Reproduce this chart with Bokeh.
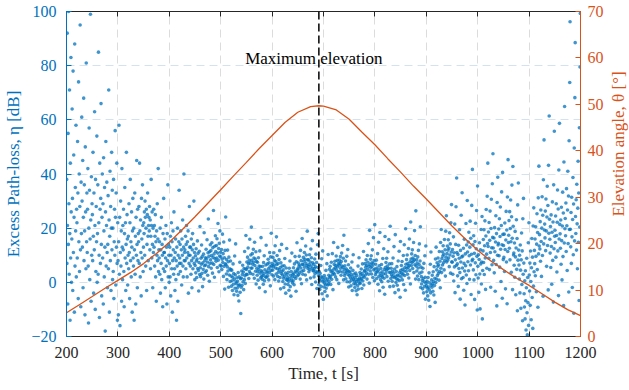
import math
import numpy as np
from bokeh.plotting import figure
from bokeh.layouts import row
from bokeh.core.properties import value
from bokeh.models import LinearAxis, Range1d, Span, Label, SingleIntervalTicker, ColumnDataSource
from bokeh.embed import file_html
from bokeh.resources import INLINE

# Satellite pass: elevation angle (deg) against time (s)
ELEV_T = [200, 225, 250, 275, 300, 325, 350, 375, 400, 425, 450, 475, 500, 525, 550,
          575, 600, 625, 650, 675, 691, 700, 725, 750, 775, 800, 825, 850, 875, 900,
          925, 950, 975, 1000, 1025, 1050, 1075, 1100, 1125, 1150, 1175, 1200]
ELEV_DEG = [5.1, 6.85, 8.6, 10.4, 12.1, 13.8, 15.7, 17.9, 20.3, 23.0, 25.8, 28.7, 31.6, 34.6, 37.5,
            40.5, 43.3, 46.1, 48.3, 49.5, 49.7, 49.6, 48.8, 46.8, 44.0, 41.3, 38.3, 35.4, 32.4, 29.6,
            26.7, 23.8, 21.1, 18.6, 16.3, 14.4, 12.6, 11.0, 9.2, 7.4, 5.8, 4.5]

# Excess path-loss samples (dB), one row per 10 s window, in time order
ETA_200_300 = [
    [38, 7, 92, 21, -8, 55, 14, 100, 29, 3, 71, 18, -14, 44, 9, 83, 26, 0],
    [16, 64, 31, -3, 78, 11, 47, 24, -11, 88, 6, 35, 19, 58, 2, 27],
    [22, 9, 52, 33, -6, 74, 15, 40, 4, 28, 95, 12, -9, 37, 18, 61],
    [30, 13, 45, -2, 24, 68, 8, 36, 19, -12, 50, 26, 5, 81, 15, 33],
    [11, 27, 42, 6, -15, 20, 57, 34, 1, 16, 99, 23, -7, 39, 10, 29],
    [25, 8, 48, 17, -4, 33, 12, 63, 21, -10, 38, 4, 28, 15, 54, 0],
    [18, 36, 3, 85, 22, 10, -13, 44, 27, 7, 31, 66, 14, -5, 24, 40],
    [9, 29, -8, 46, 19, 2, 35, 13, -18, 26, 52, 6, 21, 37, 11, -2],
    [14, 32, 5, 71, 23, -11, 17, 41, 8, 28, -3, 20, 48, 12, 34, 1],
    [20, 4, 38, -6, 15, 27, 10, 56, 24, -1, 33, 13, 44, 7, -14, 22],
]
ETA_300_450 = [
    [8, -12, 15, 58, 3, 24, -16, 11, 30, 6, 19, -7, 42, 13, 1, 21],
    [12, 27, 4, -9, 18, 35, 9, 22, -3, 14, 48, 7, 25, 16, -1, 10],
    [17, 5, 29, 11, -6, 22, 38, 8, 15, 2, 26, 13, -11, 19, 31, 9],
    [6, 20, -14, 12, 33, 3, 17, -8, 24, 10, 45, 14, -2, 27, 8, 18],
    [15, 28, 7, 44, 19, 2, 23, 11, -5, 31, 16, 9, 36, 21, 4, 13],
    [22, 18, 26, 10, 30, 24, 6, 20, 27, -3, 14, 25, 33, 17, 8, 21],
    [24, 19, 28, 12, 23, 5, 17, 38, 21, 9, 26, 14, -2, 20, 11, 27],
    [13, 21, 6, 17, 25, 2, 15, -7, 19, 10, 29, 8, 16, 42, 4, 12],
    [9, 15, 3, 20, -4, 12, 7, 24, 1, 14, 10, -9, 18, 5, 31, 11],
    [11, 4, 16, -2, 9, 21, 6, 13, -8, 18, 8, 36, 2, 14, 10, 0],
    [7, 13, 2, 17, -5, 10, 22, 5, 15, -11, 8, 19, 12, 3, 26, 9],
    [5, -3, 11, 16, 1, 8, -14, 13, 6, 20, -7, 10, 3, 15, 34, 7],
    [9, 14, 4, 19, 7, 12, -1, 16, 10, 23, 6, 2, 13, 40, 8, 11],
    [12, 8, 17, 5, 14, 21, 9, 2, 15, 11, 19, -4, 10, 7, 28, 13],
    [10, 6, 13, 3, 16, 8, -2, 12, 18, 5, 9, 14, 30, 7, 11, 1],
]
ETA_450_950 = [
    [6.2, 9.8, 3.5, 12.4, 7.9, 1.8, 8.6, 15.3, 5.1, 10.7, 4.4, -3.2, 7.3, 11.5, 2.9, 20.6],
    [5.4, 2.1, 8.9, 6.7, 13.8, 3.3, 9.5, -1.6, 7.2, 4.8, 10.4, 1.2, 18.3, 6.1, 8.0, 3.7],
    [9.1, 6.4, 12.2, 4.3, 8.8, 15.7, 7.5, 2.6, 10.9, 23.4, 5.8, 9.6, 0.4, 11.3, 7.0, 13.9],
    [8.3, 11.7, 5.2, 9.9, 14.6, 7.1, 3.4, 12.8, 9.2, 26.5, 6.6, 10.5, 1.9, 13.3, 8.7, 17.2],
    [11.4, 7.8, 13.6, 9.0, 16.1, 5.5, 10.8, 21.7, 8.2, 12.5, 3.9, 14.4, 9.7, 19.0, 6.3, 11.1],
    [9.4, 6.0, 12.1, 4.7, 8.5, 17.8, 7.3, 10.6, 2.2, 14.9, 5.9, 9.1, -2.5, 11.8, 6.8, 24.1],
    [6.5, 3.1, 8.4, 1.0, 5.7, 11.9, 4.2, 7.6, -1.8, 9.3, 2.7, 15.6, 5.0, 0.3, 7.9, 4.6],
    [2.3, -1.4, 4.5, 0.6, -3.0, 1.9, 6.8, -0.7, 3.2, -4.6, 1.1, 9.7, -2.2, 2.8, 14.2, 0.1],
    [-0.5, -3.3, 1.7, -2.1, 0.4, -4.8, 3.6, -1.2, -6.9, 2.0, -0.9, 7.4, -3.7, 1.3, -11.5, -1.8],
    [1.6, 4.2, -1.1, 2.9, 6.3, 0.2, 3.8, -2.7, 5.1, 1.0, 11.4, 2.4, -0.4, 4.9, 17.3, 3.0],
    [4.8, 7.5, 2.9, 9.3, 5.6, 12.7, 6.9, 1.4, 8.2, 4.0, 15.9, 7.1, 3.3, 10.1, 5.2, 20.4],
    [8.1, 5.3, 10.6, 6.7, 3.0, 12.2, 7.4, 9.0, 1.5, 14.8, 6.2, 8.6, 4.1, 11.3, -0.6, 7.7],
    [5.2, 2.6, 7.4, 3.9, 0.8, 9.1, 4.7, 6.0, -2.0, 11.6, 3.4, 5.8, 1.7, 16.5, 4.3, 2.2],
    [3.8, 1.1, 5.9, 2.5, -0.7, 7.3, 3.2, 9.8, 0.6, 4.6, -3.5, 2.0, 6.4, 13.7, 1.9, 3.5],
    [4.1, 6.8, 2.4, 8.5, 5.0, 0.9, 7.2, 3.6, 11.0, 5.7, -1.3, 9.4, 4.4, 18.1, 6.1, 2.8],
    [7.0, 4.5, 9.2, 5.8, 2.3, 10.9, 6.4, 8.1, 1.0, 13.5, 5.3, 7.7, 3.1, 16.8, 6.6, 9.9],
    [5.0, 2.2, 6.9, 3.7, 0.5, 8.4, 4.6, 11.7, 1.8, 5.5, -2.4, 7.2, 3.3, 14.0, 4.1, 6.0],
    [2.7, 0.3, 4.6, 1.5, -1.9, 6.1, 2.2, 8.8, -0.6, 3.4, -4.0, 5.3, 1.0, 12.5, 2.9, 0.9],
    [1.8, -0.8, 3.7, 0.4, -2.9, 5.2, 1.3, 7.9, -1.6, 2.6, -5.1, 4.0, 0.7, 10.8, 1.9, -0.2],
    [2.9, 0.6, 5.4, 3.3, -0.9, 6.8, 2.1, 9.5, 4.2, 1.4, -3.3, 7.6, 3.7, 14.6, 2.4, 5.0],
    [4.6, 7.1, 2.8, 5.9, 9.6, 3.5, 6.4, 1.2, 11.8, 5.3, 8.0, -0.5, 4.1, 16.2, 6.7, 3.0],
    [6.5, 9.2, 4.4, 7.8, 11.0, 5.6, 8.5, 2.7, 13.4, 7.0, 10.1, 0.9, 6.2, 18.9, 8.3, 5.1],
    [5.8, 8.3, 3.9, 6.6, 10.2, 4.7, 7.5, 1.6, 12.3, 6.0, 9.1, -0.8, 5.2, 15.4, 7.2, 4.3],
    [4.3, 6.7, 2.0, 5.1, 8.6, 3.2, 5.8, 0.1, 10.4, 4.0, 7.3, -2.3, 3.6, 13.9, 5.5, 18.0],
    [2.4, -0.9, 4.0, 1.1, -2.6, 3.3, 0.6, 6.2, -1.5, 2.0, 8.7, -4.2, 1.7, 11.6, 0.2, -6.3],
    [0.8, -1.7, 2.5, -0.3, -3.4, 1.6, -0.9, 4.4, -2.2, 0.5, 6.9, -5.0, 1.2, -1.0, 10.3, -0.6],
    [2.6, 0.3, 4.8, 1.7, 5.9, 2.2, -0.8, 3.9, 7.4, 1.1, 4.3, 10.6, 2.9, -2.7, 3.5, 14.7],
    [4.9, 6.6, 3.1, 7.8, 5.4, 2.0, 6.2, 9.7, 4.5, 1.0, 8.1, 5.7, 12.9, 3.6, 6.9, -0.4],
    [6.3, 8.2, 4.1, 7.0, 9.5, 5.2, 2.6, 7.7, 10.8, 6.0, 3.8, 13.6, 5.6, 8.9, 0.9, 17.4],
    [4.7, 2.5, 6.1, 3.4, 7.9, 1.3, 5.0, 3.9, 9.6, 0.2, 4.4, 12.1, 2.9, 6.5, -1.7, 4.0],
    [2.4, 0.1, 3.8, 1.6, 5.3, -1.3, 2.9, 0.8, 7.5, -3.0, 2.0, 4.4, 10.2, 1.1, -0.5, 3.1],
    [0.6, -1.9, 1.8, -0.6, 3.4, -3.1, 0.2, 2.5, -4.6, 1.0, -1.2, 6.0, -2.5, 0.9, 9.1, -0.2],
    [1.7, 3.6, -0.4, 2.8, 0.9, 4.9, 1.4, -2.3, 3.2, 6.8, 0.5, 2.3, 11.4, -1.0, 1.9, 4.1],
    [4.4, 6.9, 2.7, 5.6, 8.3, 3.5, 6.2, 1.2, 9.9, 4.8, 7.4, 14.3, 3.0, 5.9, -0.3, 19.2],
    [6.6, 4.2, 8.5, 5.4, 9.8, 3.1, 7.2, 5.9, 12.0, 1.8, 6.8, 16.5, 4.6, 8.0, 0.6, 21.3],
    [4.9, 2.8, 6.7, 3.6, 8.2, 1.4, 5.3, 3.9, 10.6, -0.7, 4.5, 14.8, 2.2, 6.1, -3.1, 18.4],
    [3.3, 1.0, 5.1, 2.4, 6.6, 0.2, 3.9, 2.0, 8.8, -1.8, 3.1, 12.4, 1.5, 4.7, -4.4, 16.9],
    [5.5, 3.2, 7.3, 4.4, 8.9, 2.1, 6.0, 4.9, 11.3, 0.4, 5.2, 15.8, 3.7, 6.8, -1.6, 20.7],
    [3.6, 1.4, 5.2, 2.7, 6.9, 0.4, 4.1, 2.2, 9.0, -1.4, 3.4, 13.2, 1.8, 4.9, -3.8, 17.6],
    [2.2, 0.0, 4.0, 1.3, 5.8, -1.1, 2.7, 1.0, 7.9, -2.8, 2.4, 11.5, 0.7, 3.6, -5.5, 15.1],
    [4.4, 2.0, 6.2, 3.3, 7.7, 0.9, 4.8, 3.0, 9.9, -0.8, 4.2, 13.9, 2.5, 5.5, -2.9, 19.8],
    [6.7, 4.1, 8.4, 5.2, 10.1, 3.0, 6.9, 5.6, 12.5, 1.6, 6.2, 16.0, 4.4, 7.6, -0.6, 22.3],
    [8.6, 6.2, 10.5, 7.3, 12.0, 5.1, 9.0, 7.8, 14.7, 3.6, 8.3, 19.1, 6.5, 9.9, 1.2, 26.4],
    [6.0, 8.3, 4.2, 7.1, 2.3, 9.4, 5.3, 11.8, 1.0, 6.6, 14.2, 3.4, 7.9, 20.5, -1.9, 5.6],
    [2.1, -0.6, 3.8, 0.7, -2.4, 5.2, 1.4, -3.9, 7.0, 0.2, -1.5, 9.8, 1.9, -6.2, 13.4, -0.3],
    [-1.3, -3.5, 0.4, -2.2, -5.0, 1.8, -1.7, -6.6, 3.5, -2.8, -0.2, -8.9, 6.7, -3.9, 11.2, -1.1],
    [0.9, -1.8, 2.6, -0.5, -3.3, 3.9, 0.3, -4.7, 5.8, -1.2, 1.5, -7.4, 8.6, -0.1, 13.0, 1.2],
    [4.6, 7.2, 2.5, 5.9, 9.0, 3.3, 6.5, 0.8, 11.4, 4.0, 7.8, -2.0, 14.7, 5.2, 19.5, 3.6],
    [8.8, 11.3, 6.4, 9.7, 13.5, 7.2, 10.4, 4.6, 15.8, 8.1, 12.0, 2.3, 18.9, 9.3, 24.6, 7.5],
    [10.6, 13.4, 8.2, 11.9, 15.7, 9.0, 12.6, 5.8, 18.3, 10.1, 14.2, 3.4, 22.0, 11.2, 28.7, 7.6],
]
ETA_950_1200 = [
    [7.4, 12.1, 3.0, 9.6, 16.8, 0.5, 10.9, 5.7, 21.5, -3.8, 8.3, 14.0, 27.9, 6.2, 38.5, 11.0],
    [6.8, 2.4, 10.3, -1.5, 13.7, 5.1, 8.9, 19.4, 3.6, -6.2, 11.8, 7.5, 24.8, 1.3, 9.4, 33.1],
    [5.3, 9.7, 1.8, 12.6, -2.9, 7.0, 15.9, 4.2, -8.4, 10.5, 6.1, 21.7, 2.7, 13.8, -0.4, 30.2],
    [11.2, 7.6, 14.9, 4.3, 18.5, 9.8, 1.1, 13.0, 22.6, 6.4, 16.3, -4.5, 10.4, 28.4, 8.0, 41.7],
    [8.5, 13.9, 4.6, 17.2, 0.9, 10.7, -6.3, 15.1, 7.2, 21.8, 2.8, 12.4, 26.5, 9.6, -10.2, 35.6],
    [5.9, 1.6, 10.2, -3.7, 8.4, 14.6, 3.1, -9.8, 12.0, 6.8, 19.5, -0.6, 7.5, 24.3, -13.5, 4.4],
    [11.6, 15.8, 7.3, 19.4, 2.9, 13.5, 22.7, 9.0, -2.6, 17.1, 26.9, 10.4, 5.2, 31.8, 14.3, 44.0],
    [13.2, 18.6, 8.9, 22.1, 4.7, 15.5, 26.3, 11.0, -1.8, 19.9, 30.7, 12.8, 6.5, 36.4, 16.6, 47.5],
    [12.7, 8.1, 16.4, 3.5, 20.2, 11.3, -3.3, 14.9, 24.6, 6.6, 18.0, -8.7, 29.5, 10.0, 38.8, 13.8],
    [14.4, 19.7, 9.8, 23.5, 5.6, 16.9, 27.8, 12.2, 0.3, 21.0, 33.4, 13.9, -5.9, 40.6, 17.7, 8.4],
    [13.6, 9.2, 17.8, 4.0, 21.9, 12.1, -2.4, 15.6, 26.2, 7.5, 19.3, -7.9, 31.5, 11.4, 45.3, 14.7],
    [17.4, 22.8, 12.6, 26.1, 8.3, 19.9, 30.4, 15.0, 3.7, 24.2, 35.9, 16.3, -2.7, 42.8, 20.7, 10.1],
    [10.8, 6.3, 14.5, 1.9, 18.8, 9.4, -4.6, 12.7, 23.1, 4.8, 16.2, -10.5, 28.6, 8.2, 36.7, 11.9],
    [6.4, 1.2, 10.0, -3.9, 13.8, 4.5, -9.6, 8.3, 18.2, -0.8, 11.6, -14.2, 23.5, 3.0, 31.0, 7.1],
    [-4.2, -9.1, 0.6, -13.5, 4.3, -6.8, -17.6, -2.0, 8.9, -11.2, -19.4, 1.8, -7.5, 14.6, -15.9, 22.0],
    [2.7, -3.2, 7.1, -8.5, 11.6, 0.3, -13.8, 5.4, 16.2, -5.6, 9.3, -17.0, 20.8, -1.4, 27.5, 3.9],
    [11.8, 6.9, 16.0, 2.4, 20.5, 9.6, -3.5, 14.1, 25.3, 4.7, 18.4, -9.2, 31.2, 10.5, 42.9, 13.4],
    [17.6, 12.3, 22.4, 7.8, 26.7, 15.1, 2.2, 20.0, 31.6, 9.9, 24.8, -5.1, 37.9, 14.2, 52.6, 19.3],
    [21.5, 16.4, 26.3, 11.7, 30.8, 19.0, 5.9, 24.1, 35.5, 13.6, 28.4, -2.8, 43.2, 18.1, 61.4, 23.3],
    [15.9, 10.8, 20.6, 5.5, 24.9, 13.2, -0.7, 18.5, 29.7, 8.1, 22.3, -7.3, 36.0, 12.4, 55.8, 17.0],
    [19.2, 14.7, 24.5, 9.3, 29.0, 17.3, 3.8, 22.2, 34.1, 11.6, 27.1, -4.9, 41.5, 16.0, 58.7, 21.4],
    [17.9, 12.6, 23.0, 6.7, 27.7, 15.4, 0.9, 20.8, 33.3, 9.5, 25.6, -8.6, 44.4, 14.5, 64.9, 19.8],
    [23.6, 17.2, 29.3, 11.4, 34.6, 20.9, 4.4, 26.7, 41.0, 14.3, 31.9, -3.6, 52.3, 19.5, 73.8, 96.2],
    [19.6, 13.1, 25.8, 7.0, 31.4, 16.8, -1.9, 23.2, 38.7, 10.2, 28.9, -11.4, 49.6, 15.3, 68.2, 88.5],
    [24.3, 18.0, 30.5, 11.9, 36.2, 21.6, 5.0, 27.4, 44.7, 14.8, 33.0, -6.7, 57.1, 20.4, 79.5, 99.3],
]

T_START = 200.0
WINDOW_S = 10.0

BLUE = "#0072BD"
ORANGE = "#D95319"
DARK = "#262626"
FONT = "Liberation Serif"

# spread each window's samples evenly over its 10 s
rows = ETA_200_300 + ETA_300_450 + ETA_450_950 + ETA_950_1200
t_samples, eta_samples = [], []
for w, r in enumerate(rows):
    n = len(r)
    for i, v in enumerate(r):
        t_samples.append(T_START + w * WINDOW_S + (i + 0.5) * WINDOW_S / n)
        eta_samples.append(v)

t_peak = ELEV_T[int(np.argmax(ELEV_DEG))]

p = figure(width=606, height=390, output_backend="svg", toolbar_location=None,
           x_range=Range1d(200, 1200), y_range=Range1d(-20, 100),
           min_border_left=66, min_border_right=24, min_border_top=11, min_border_bottom=54)
p.extra_y_ranges = {"elev": Range1d(0, 70)}
p.outline_line_color = None
p.background_fill_color = "white"

# grid
p.xgrid.ticker = SingleIntervalTicker(interval=100)
p.ygrid.ticker = SingleIntervalTicker(interval=20)
p.xgrid.grid_line_color = "#dcdcdc"
p.ygrid.grid_line_color = "#d4e2ef"
p.xgrid.grid_line_dash = "8 5"
p.ygrid.grid_line_dash = "8 5"


def style_axis(ax, color, label_color=None):
    ax.axis_line_color = color
    ax.major_tick_line_color = color
    ax.major_tick_in = 5
    ax.major_tick_out = 0
    ax.minor_tick_line_color = None
    ax.major_label_text_color = label_color or color
    ax.major_label_text_font = FONT
    ax.major_label_text_font_size = "16px"
    ax.axis_label_text_font = FONT
    ax.axis_label_text_font_size = "17px"
    ax.axis_label_text_font_style = "normal"
    ax.axis_label_text_color = label_color or color


# bottom axis
xax = p.xaxis[0]
xax.ticker = SingleIntervalTicker(interval=100)
style_axis(xax, DARK)
xax.axis_label = "Time, t [s]"
xax.major_label_standoff = 6
xax.axis_label_standoff = 3

# top axis (box edge)
top = LinearAxis(ticker=SingleIntervalTicker(interval=100))
style_axis(top, DARK)
top.major_label_text_font_size = "0px"
top.major_label_standoff = 0
p.add_layout(top, "above")

# left axis: path loss
yax = p.yaxis[0]
yax.ticker = SingleIntervalTicker(interval=20)
style_axis(yax, BLUE)
yax.axis_label = "Excess Path-loss, η [dB]"
yax.major_label_standoff = 6
yax.axis_label_standoff = 5

# right axis: elevation ticks
rax = LinearAxis(y_range_name="elev", ticker=SingleIntervalTicker(interval=10))
style_axis(rax, ORANGE)
rax.major_label_standoff = 3
p.add_layout(rax, "right")

# path-loss samples
src = ColumnDataSource(dict(t=t_samples, eta=eta_samples))
p.scatter("t", "eta", source=src, size=3.6, marker="circle", color=BLUE,
          line_color=None, fill_alpha=0.75)

# elevation profile
p.line(ELEV_T, ELEV_DEG, y_range_name="elev", color=ORANGE, line_width=1.3)

# maximum elevation marker
p.add_layout(Label(x=t_peak, y=82.6, x_offset=-5, text="Maximum elevation",
                   text_align="center", text_baseline="middle",
                   text_font=FONT, text_font_size="17px", text_color="black"))
p.add_layout(Span(location=t_peak, dimension="height", line_color="black",
                  line_dash="8 4", line_width=1.5))

# narrow strip holding the right axis title, reading upwards
strip = figure(width=23, height=390, output_backend="svg", toolbar_location=None,
               x_range=Range1d(0, 23), y_range=Range1d(0, 390),
               min_border=0, outline_line_color=None)
strip.axis.visible = False
strip.grid.visible = False
strip.text(x=[12], y=[231], text=["Elevation angle, θ [°]"], angle=math.pi / 2,
           text_align="center", text_baseline="middle",
           text_font=value(FONT), text_font_size="17px", text_color=ORANGE)

layout = row(p, strip, spacing=0)
open("out.html", "w").write(file_html(layout, INLINE))
